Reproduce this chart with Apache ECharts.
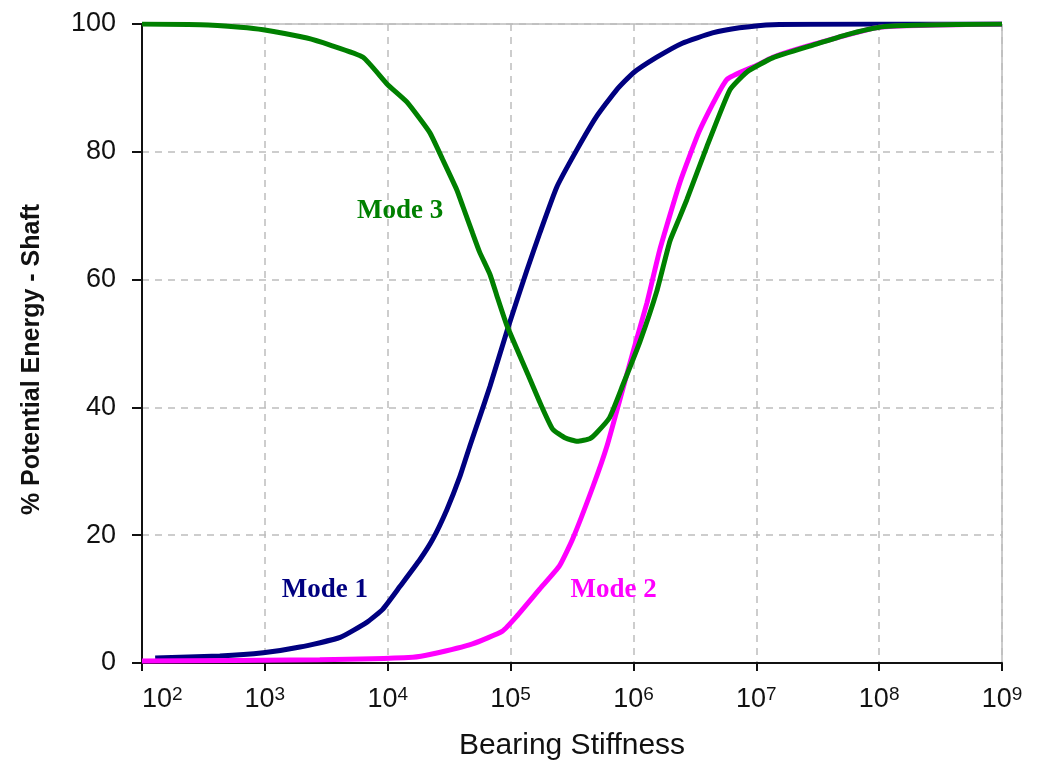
<!DOCTYPE html>
<html>
<head>
<meta charset="utf-8">
<script src="https://cdn.jsdelivr.net/npm/echarts@6/dist/echarts.min.js"></script>
<style>
  html, body { margin: 0; padding: 0; background: #fff; }
  #chart { width: 1038px; height: 766px; }
</style>
</head>
<body>
<div id="chart"></div>
<script>
// bearing stiffness values (log axis) and % potential energy in the shaft
const mode1X = [128, 430, 970, 1930, 4100, 6800, 9100, 1.26e4, 1.83e4, 2.33e4, 3.03e4, 3.87e4, 4.67e4, 5.63e4,
  6.8e4, 9.5e4, 1.36e5, 1.73e5, 2.38e5, 3.46e5, 5.0e5, 7.3e5, 9.9e5, 1.55e6, 2.5e6, 4.4e6, 7.3e6, 1.36e7, 1e8, 1e9]
const mode1Y = [0.8, 1.1, 1.6, 2.5, 4.0, 6.4, 8.4, 12, 16.2, 19.4, 24, 29.2, 34, 38.6,
  43.3, 52.4, 61.5, 67.3, 74.5, 80.3, 85.5, 89.7, 92.3, 94.8, 97, 98.6, 99.4, 99.9, 100, 100]

const mode2X = [100, 2800, 1.6e4, 2.3e4, 4.9e4, 8.6e4, 1.12e5, 1.73e5, 2.5e5, 3.2e5, 4.7e5, 6.1e5, 7.75e5,
  9.9e5, 1.29e6, 1.64e6, 2.39e6, 3.47e6, 5.75e6, 1.0e7, 1.36e7, 2.9e7, 1e8, 1e9]
const mode2Y = [0.3, 0.5, 0.9, 1.4, 3.0, 5.0, 7.3, 11.6, 15.2, 19.4, 27.7, 34, 41.2,
  48.6, 56.4, 64.7, 75.2, 83.4, 91.3, 93.5, 94.8, 96.8, 99.5, 100]

const mode3X = [100, 300, 630, 970, 2200, 3400, 6300, 1.0e4, 1.43e4, 2.2e4, 2.8e4, 3.66e4, 4.1e4, 4.9e4, 5.6e4,
  6.8e4, 7.7e4, 9.3e4, 1.36e5, 1.73e5, 2.2e5, 2.8e5, 3.5e5, 4.4e5, 5.0e5, 6.4e5, 8.2e5, 1.13e6, 1.55e6,
  1.98e6, 2.35e6, 2.72e6, 3.96e6, 6.1e6, 8.4e6, 1.36e7, 2.9e7, 5.4e7, 1e8, 1.9e8, 1e9]
const mode3Y = [100, 99.9, 99.5, 99.1, 97.8, 96.7, 94.8, 90.5, 87.8, 83, 78.8, 74.0, 71.4, 67.3, 64.3,
  60.8, 57.6, 52.9, 45.5, 40.8, 36.6, 35.2, 34.7, 35.1, 36, 38.4, 43.5, 50.3, 58.2,
  66, 69.5, 72.5, 80.8, 89.7, 92.5, 94.7, 96.7, 98.3, 99.5, 99.8, 100]

const seriesNames = ['Mode 1', 'Mode 2', 'Mode 3']
const seriesColors = ['#000080', '#ff00ff', '#008000']
// where each curve's name is written, in data coordinates
const labelAt = [[3.08e3, 11.4], [6.9e5, 11.4], [1.26e4, 70.8]]

const yTicks = [0, 20, 40, 60, 80, 100]

function pairs(xs, ys) {
  return xs.map((x, i) => [x, ys[i]])
}

const allData = [pairs(mode1X, mode1Y), pairs(mode2X, mode2Y), pairs(mode3X, mode3Y)]

const chart = echarts.init(document.getElementById('chart'))

chart.setOption({
  animation: false,
  grid: {
    left: 142, right: 36, top: 24, bottom: 102,
    show: true, borderColor: '#9a9a9a', borderWidth: 1,
  },
  xAxis: {
    type: 'log',
    logBase: 10,
    min: 100,
    max: 1e9,
    name: 'Bearing Stiffness',
    nameLocation: 'middle',
    nameGap: 68,
    nameTextStyle: { fontFamily: 'Liberation Sans', fontSize: 30, color: '#111' },
    axisLine: { lineStyle: { color: '#111', width: 2 } },
    axisTick: { length: 8, lineStyle: { color: '#111', width: 2 } },
    splitLine: { show: true, lineStyle: { color: '#bdbdbd', type: [7, 6], width: 1.5 } },
    minorTick: { show: false },
    axisLabel: {
      margin: 22,
      alignMinLabel: 'left',
      formatter: v => '{b|10}{s|' + Math.round(Math.log10(v)) + '}',
      rich: {
        b: { fontFamily: 'Liberation Sans', fontSize: 27, color: '#111', lineHeight: 30 },
        s: { fontFamily: 'Liberation Sans', fontSize: 19, color: '#111', verticalAlign: 'top', lineHeight: 30, padding: [0, 0, 8, 0] },
      },
    },
  },
  yAxis: {
    type: 'value',
    min: 0,
    max: 100,
    interval: 20,
    name: '% Potential Energy - Shaft',
    nameLocation: 'middle',
    nameGap: 97,
    nameTextStyle: { fontFamily: 'Liberation Sans', fontSize: 25, fontWeight: 'bold', color: '#111', padding: [0, 32, 0, 0] },
    axisLine: { show: true, lineStyle: { color: '#111', width: 2 } },
    axisTick: { show: true, length: 10, lineStyle: { color: '#111', width: 2 } },
    splitLine: { show: true, lineStyle: { color: '#bdbdbd', type: [7, 6], width: 1.5 } },
    axisLabel: {
      margin: 26,
      fontFamily: 'Liberation Sans', fontSize: 27, color: '#111',
      formatter: v => (yTicks.includes(v) ? String(v) : ''),
    },
  },
  series: allData.map((data, i) => ({
    name: seriesNames[i],
    type: 'line',
    data,
    smooth: 0.15,
    symbol: 'none',
    lineStyle: { color: seriesColors[i], width: 5 },
    markPoint: {
      symbol: 'circle',
      symbolSize: 0,
      silent: true,
      label: {
        show: true,
        position: 'inside',
        formatter: seriesNames[i],
        fontFamily: 'Liberation Serif',
        fontWeight: 'bold',
        fontSize: 27,
        color: seriesColors[i],
      },
      data: [{ coord: labelAt[i] }],
    },
  })),
})
</script>
</body>
</html>
